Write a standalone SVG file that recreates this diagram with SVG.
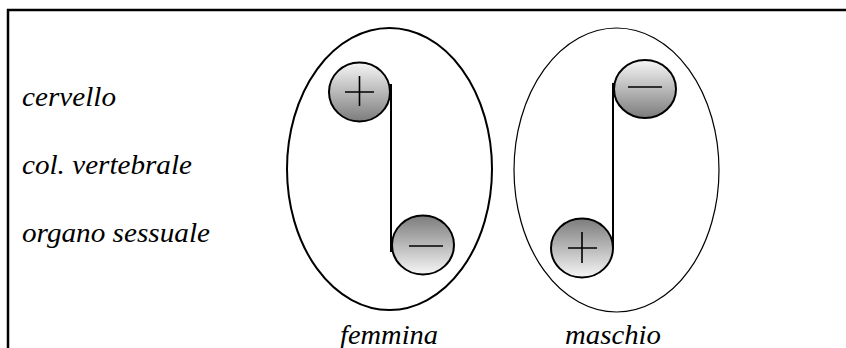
<svg xmlns="http://www.w3.org/2000/svg" width="846" height="348" viewBox="0 0 846 348">
<style>
.lbl{font-family:'Liberation Serif','Times New Roman',serif;font-style:italic;font-size:27px;fill:#000}
.bead{stroke:#000;stroke-width:2}
.sign{stroke:#000;stroke-width:1.6;fill:none}
.cord{stroke:#000;stroke-width:2;fill:none}
</style>
<defs>
<linearGradient id="down" x1="0" y1="0" x2="0" y2="1">
<stop offset="0" stop-color="#f6f6f6"/>
<stop offset="1" stop-color="#7c7c7c"/>
</linearGradient>
<linearGradient id="up" x1="0" y1="0" x2="0" y2="1">
<stop offset="0" stop-color="#7c7c7c"/>
<stop offset="1" stop-color="#f6f6f6"/>
</linearGradient>
</defs>
<rect width="846" height="348" fill="#fff"/>
<g id="frame">
<line x1="7" y1="10" x2="846" y2="10" stroke="#000" stroke-width="2.5"/>
<line x1="8" y1="9" x2="8" y2="348" stroke="#000" stroke-width="2.5"/>
</g>
<g id="labels">
<text class="lbl" x="22" y="106" textLength="94" lengthAdjust="spacingAndGlyphs">cervello</text>
<text class="lbl" x="22" y="174" textLength="170" lengthAdjust="spacingAndGlyphs">col. vertebrale</text>
<text class="lbl" x="22" y="242" textLength="188" lengthAdjust="spacingAndGlyphs">organo sessuale</text>
</g>
<g id="femmina">
<ellipse cx="389.5" cy="169" rx="102.5" ry="141" fill="none" stroke="#000" stroke-width="2"/>
<text class="lbl" x="340" y="344" textLength="98" lengthAdjust="spacingAndGlyphs">femmina</text>
</g>
<g id="maschio">
<ellipse cx="616.5" cy="170" rx="102.5" ry="142" fill="none" stroke="#000" stroke-width="1.2"/>
<text class="lbl" x="565" y="344" textLength="96" lengthAdjust="spacingAndGlyphs">maschio</text>
</g>
<g id="connectors">
<line class="cord" x1="391" y1="84" x2="391" y2="252"/>
<line class="cord" x1="613" y1="83" x2="613" y2="248"/>
</g>
<g id="f-plus">
<ellipse class="bead" cx="359.5" cy="92" rx="30.5" ry="29.5" fill="url(#down)"/>
<path class="sign" d="M345 92H374M359.5 76V106"/>
</g>
<g id="f-minus">
<ellipse class="bead" cx="423" cy="245" rx="31" ry="29.5" fill="url(#up)"/>
<path class="sign" d="M409 246H443"/>
</g>
<g id="m-minus">
<ellipse class="bead" cx="645" cy="89" rx="31" ry="29" fill="url(#down)"/>
<path class="sign" d="M628 87H662"/>
</g>
<g id="m-plus">
<ellipse class="bead" cx="582" cy="248" rx="31" ry="29.5" fill="url(#up)"/>
<path class="sign" d="M568 248H597M582 232V263"/>
</g>
</svg>
